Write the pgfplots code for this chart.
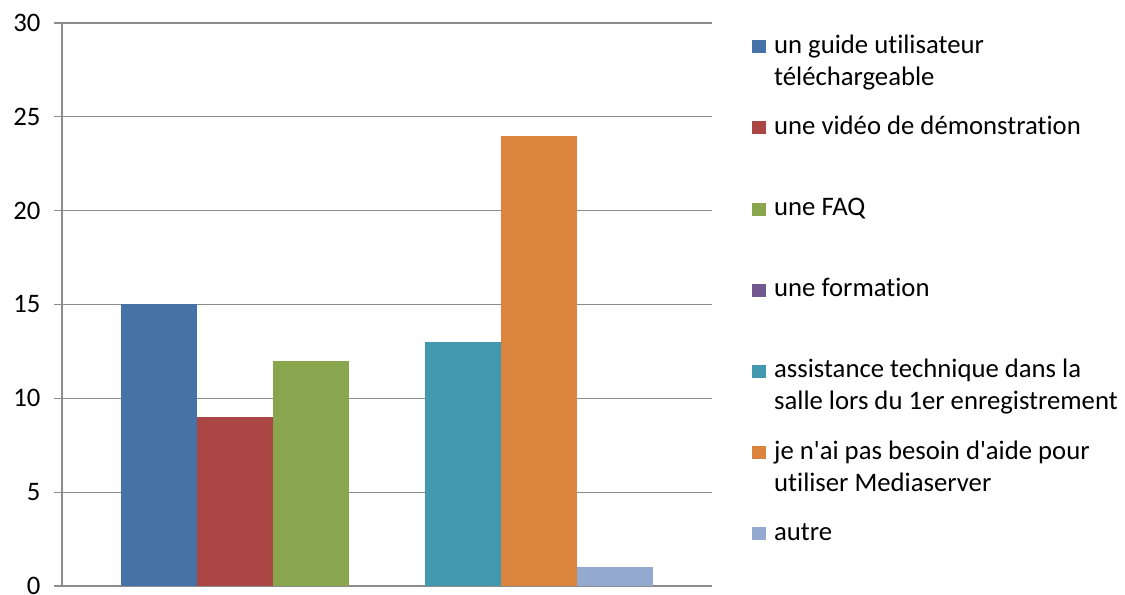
\documentclass[border=0pt]{standalone}
\usepackage{fontspec}
\setmainfont{Carlito}[Ligatures={TeXOff,NoCommon}]
\usepackage{pgfplots}
\pgfplotsset{compat=1.18}
\definecolor{cGuide}{HTML}{4572A7}
\definecolor{cVideo}{HTML}{AA4643}
\definecolor{cFaq}{HTML}{89A54E}
\definecolor{cForm}{HTML}{71588F}
\definecolor{cAssist}{HTML}{4198AF}
\definecolor{cNone}{HTML}{DB843D}
\definecolor{cAutre}{HTML}{93A9CF}
\definecolor{cGrid}{HTML}{8C8C8C}
\newcommand{\entry}[1]{\smash{\parbox[t]{360bp}{\fontsize{26.7bp}{32bp}\selectfont #1}}}

\begin{document}
\begin{tikzpicture}
\useasboundingbox (-62bp,-9bp) rectangle (1063bp,586bp);
\begin{axis}[
	scale only axis,
	width=650bp,
	height=563bp,
	xmin=-0.5, xmax=0.5,
	ymin=0, ymax=30,
	ytick={0,5,...,30},
	xtick=\empty,
	ybar=0pt,
	bar width=76bp,
	axis lines*=left,
	axis line style={draw=cGrid, line width=1.2bp},
	ymajorgrids,
	grid style={draw=cGrid, line width=1.2bp},
	y tick style={draw=cGrid, line width=1.2bp},
	ytick align=outside,
	major tick length=8bp,
	/pgf/number format/assume math mode=true,
	tick label style={font=\fontsize{26.7bp}{32bp}\selectfont},
	yticklabel style={xshift=-10bp},
	legend cell align=left,
	legend image code/.code={\fill[#1] (0bp,0bp) rectangle (14bp,13bp);},
	legend style={draw=none, fill=none, at={(1.0615,0.9698)}, anchor=north west,
		inner sep=0pt, row sep=67.7bp, column sep=8bp,
		nodes={inner sep=0pt, text depth=0pt}, cells={anchor=base west}},
]
\addplot[fill=cGuide, draw=none] coordinates {(0,15)};
\addlegendentry{\entry{un guide utilisateur\\téléchargeable}}
\addplot[fill=cVideo, draw=none] coordinates {(0,9)};
\addlegendentry{\entry{une vidéo de démonstration}}
\addplot[fill=cFaq, draw=none] coordinates {(0,12)};
\addlegendentry{\entry{une FAQ}}
\addplot[fill=cForm, draw=none] coordinates {(0,0)};
\addlegendentry{\entry{une formation}}
\addplot[fill=cAssist, draw=none] coordinates {(0,13)};
\addlegendentry{\entry{assistance technique dans la\\salle lors du 1er enregistrement}}
\addplot[fill=cNone, draw=none] coordinates {(0,24)};
\addlegendentry{\entry{je n'ai pas besoin d'aide pour\\utiliser Mediaserver}}
\addplot[fill=cAutre, draw=none] coordinates {(0,1)};
\addlegendentry{\entry{autre}}
\end{axis}
\end{tikzpicture}
\end{document}
